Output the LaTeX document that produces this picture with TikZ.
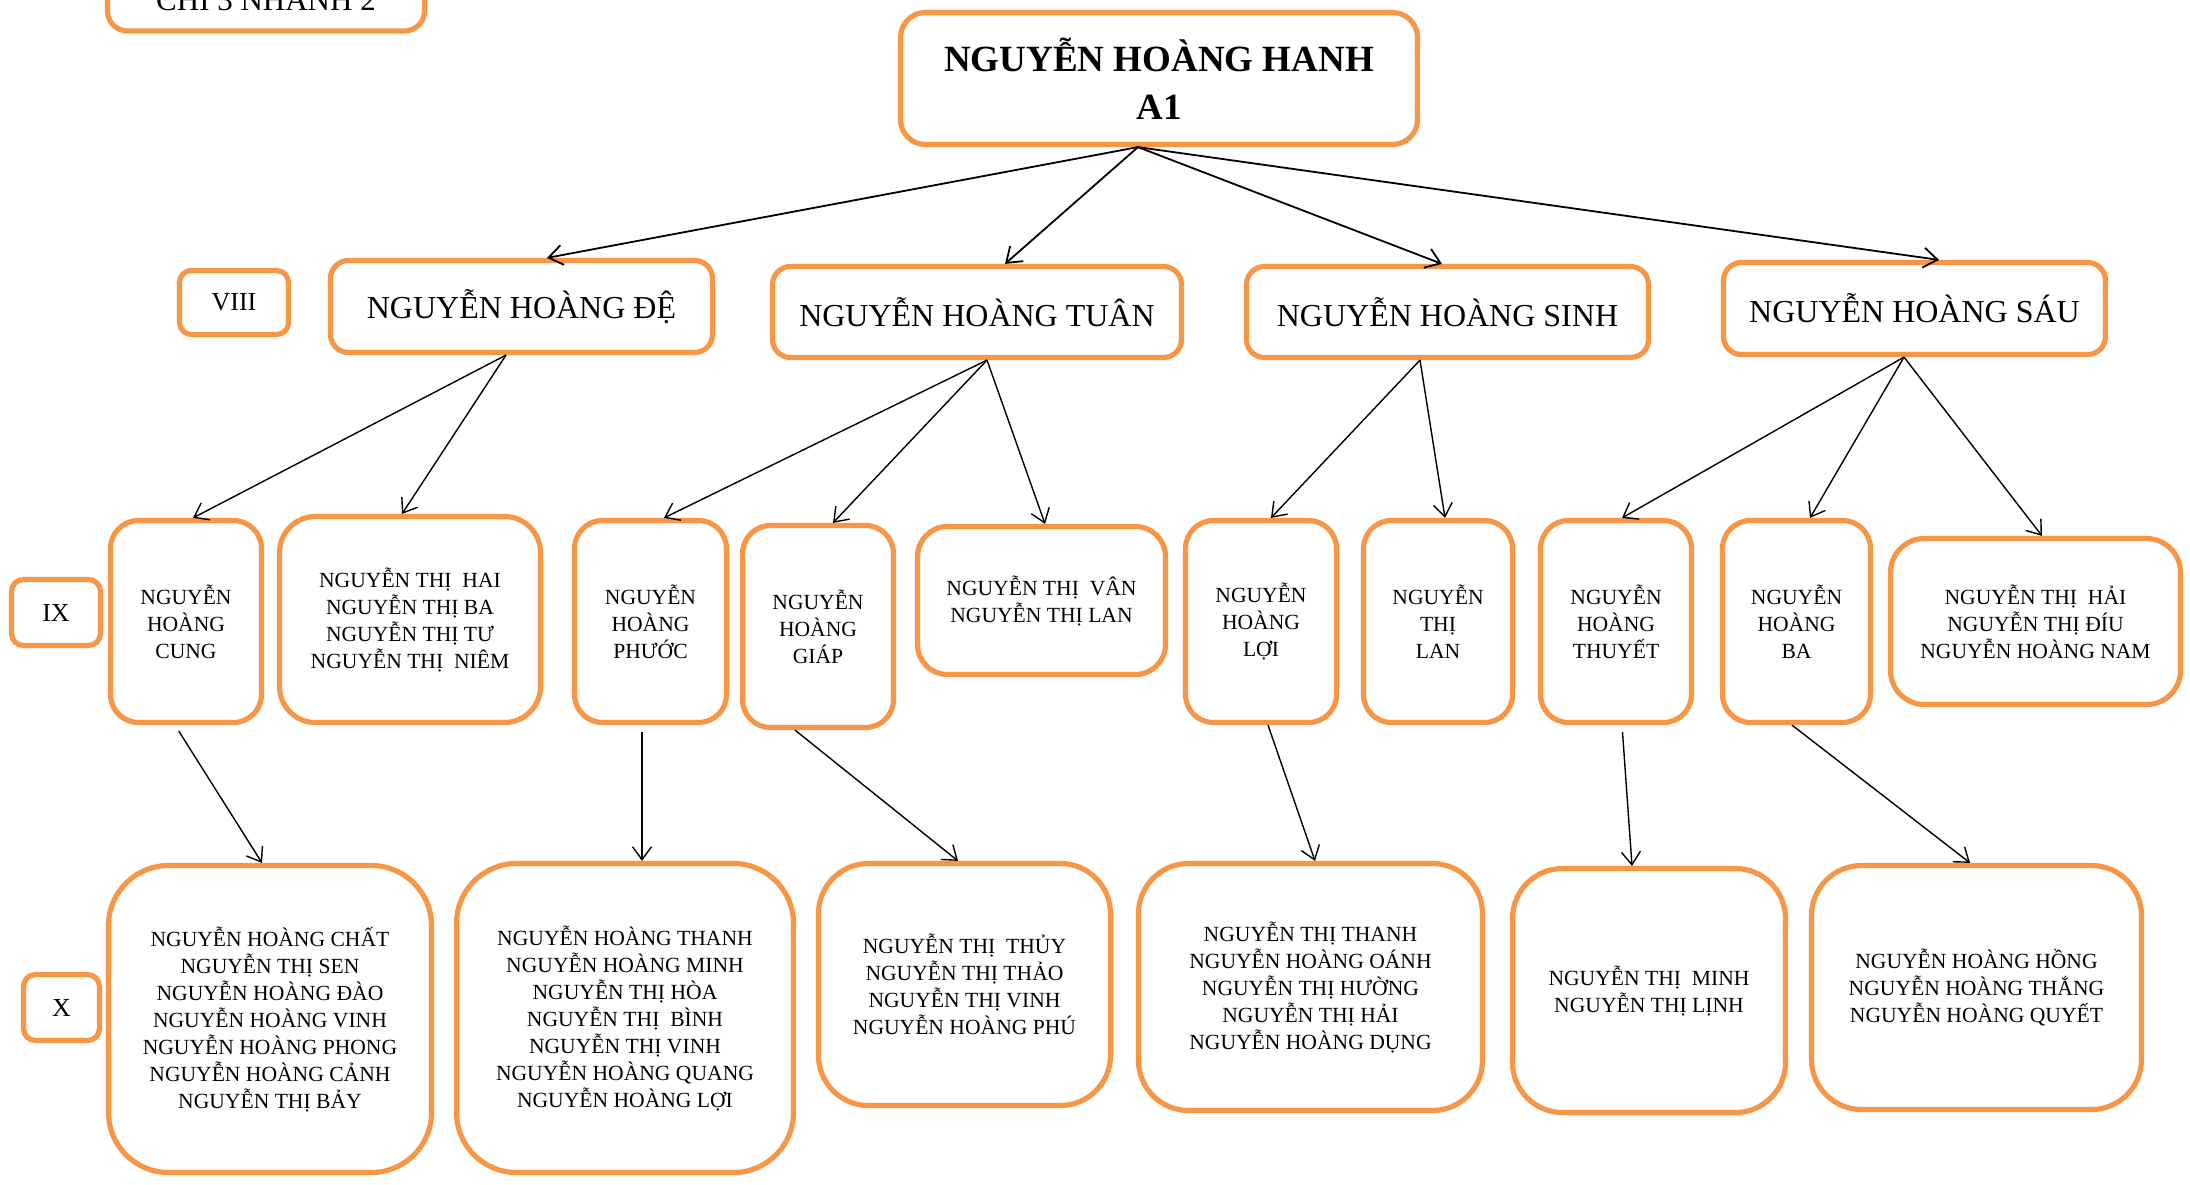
\documentclass[tikz,border=0pt]{standalone}
\usepackage{fontspec}
\setmainfont{Liberation Serif}
\usetikzlibrary{arrows.meta}
\definecolor{boxorange}{RGB}{247,150,70}
\newcommand\froot{\fontsize{18.5}{24}\selectfont\bfseries}
\newcommand\fgen{\fontsize{16}{19}\selectfont}
\newcommand\flabel{\fontsize{13}{15}\selectfont}
\newcommand\fchi{\fontsize{15.5}{18}\selectfont}
\newcommand\fnames{\fontsize{10.8}{13.5}\selectfont}
\begin{document}
\begin{tikzpicture}[x=0.5pt,y=-0.5pt,
  box/.style={draw=boxorange, line width=2.6pt, fill=white, rounded corners=#1,
              align=center, inner sep=0pt},
  box/.default=9pt,
  arr/.style={draw=black, line width=0.9pt, -{Straight Barb[length=7pt,width=10pt]}},
  arrs/.style={draw=black, line width=0.7pt, -{Straight Barb[length=6.5pt,width=9.5pt]}}]
\fill[white] (0,0) rectangle (2190,1184);
\useasboundingbox (0,0) rectangle (2190,1184);

% top
\node[box=10pt, minimum width=158.5pt, minimum height=34pt, font=\fchi] (chi) at (266,-3) {CHI 3 NHÁNH 2};
\node[box=12.5pt, minimum width=258.5pt, minimum height=66pt, font=\froot] (root) at (1159,78.5) {NGUYỄN HOÀNG HANH\\A1};

% generation VIII
\node[box=6pt, minimum width=54.5pt, minimum height=32pt, font=\flabel] (l8) at (234,302.5) {VIII};
\node[box, minimum width=191pt, minimum height=46pt, font=\fgen] (de) at (521.5,306.5) {NGUYỄN HOÀNG ĐỆ};
\node[box, minimum width=204.5pt, minimum height=45.5pt, font=\fgen] (tuan) at (977,312) {NGUYỄN HOÀNG TUÂN};
\node[box, minimum width=201pt, minimum height=45.5pt, font=\fgen] (sinh) at (1447.5,312) {NGUYỄN HOÀNG SINH};
\node[box, minimum width=191pt, minimum height=46pt, font=\fgen] (sau) at (1914.5,308.5) {NGUYỄN HOÀNG SÁU};

% generation IX
\node[box=6pt, minimum width=44.5pt, minimum height=33pt, font=\flabel] (l9) at (56,612.5) {IX};
\node[box=14pt, minimum width=75.5pt, minimum height=101pt, font=\fnames] (cung) at (186,621.5) {NGUYỄN\\HOÀNG\\CUNG};
\node[box=18pt, minimum width=130.5pt, minimum height=103pt, font=\fnames] (hai) at (410,619.5) {NGUYỄN THỊ\ \ HAI\\NGUYỄN THỊ BA\\NGUYỄN THỊ TƯ\\NGUYỄN THỊ\ \ NIÊM};
\node[box=14pt, minimum width=76pt, minimum height=101pt, font=\fnames] (phuoc) at (650.5,621.5) {NGUYỄN\\HOÀNG\\PHƯỚC};
\node[box=14pt, minimum width=75.5pt, minimum height=101pt, font=\fnames] (giap) at (818,626.5) {NGUYỄN\\HOÀNG\\GIÁP};
\node[box=15pt, minimum width=124pt, minimum height=74pt, font=\fnames] (van) at (1041.5,600.5) {NGUYỄN THỊ\ \ VÂN\\NGUYỄN THỊ LAN};
\node[box=14pt, minimum width=75.5pt, minimum height=101pt, font=\fnames] (loi) at (1261,621.5) {NGUYỄN\\HOÀNG\\LỢI};
\node[box=14pt, minimum width=74.5pt, minimum height=101pt, font=\fnames] (lan) at (1438,621.5) {NGUYỄN\\THỊ\\LAN};
\node[box=14pt, minimum width=75.5pt, minimum height=101pt, font=\fnames] (thuyet) at (1616,621.5) {NGUYỄN\\HOÀNG\\THUYẾT};
\node[box=14pt, minimum width=74pt, minimum height=101pt, font=\fnames] (ba) at (1796.5,621.5) {NGUYỄN\\HOÀNG\\BA};
\node[box=17pt, minimum width=145pt, minimum height=83pt, font=\fnames] (haib) at (2035.5,621.5) {NGUYỄN THỊ\ \ HẢI\\NGUYỄN THỊ ĐÍU\\NGUYỄN HOÀNG NAM};

% generation X
\node[box=6pt, minimum width=38pt, minimum height=33pt, font=\flabel] (l10) at (61.5,1007.5) {X};
\node[box=30pt, minimum width=161.5pt, minimum height=153.5pt, font=\fnames] (chat) at (270,1019) {NGUYỄN HOÀNG CHẤT\\NGUYỄN THỊ SEN\\NGUYỄN HOÀNG ĐÀO\\NGUYỄN HOÀNG VINH\\NGUYỄN HOÀNG PHONG\\NGUYỄN HOÀNG CẢNH\\NGUYỄN THỊ BẢY};
\node[box=30pt, minimum width=168.5pt, minimum height=154.5pt, font=\fnames] (thanh) at (625,1018) {NGUYỄN HOÀNG THANH\\NGUYỄN HOÀNG MINH\\NGUYỄN THỊ HÒA\\NGUYỄN THỊ\ \ BÌNH\\NGUYỄN THỊ VINH\\NGUYỄN HOÀNG QUANG\\NGUYỄN HOÀNG LỢI};
\node[box=25pt, minimum width=146pt, minimum height=121pt, font=\fnames] (thuy) at (964.5,984.5) {NGUYỄN THỊ\ \ THỦY\\NGUYỄN THỊ THẢO\\NGUYỄN THỊ VINH\\NGUYỄN HOÀNG PHÚ};
\node[box=25pt, minimum width=172pt, minimum height=123.5pt, font=\fnames] (tthanh) at (1310.5,987) {NGUYỄN THỊ THANH\\NGUYỄN HOÀNG OÁNH\\NGUYỄN THỊ HƯỜNG\\NGUYỄN THỊ HẢI\\NGUYỄN HOÀNG DỤNG};
\node[box=25pt, minimum width=136.5pt, minimum height=122pt, font=\fnames] (minh) at (1649,990.5) {NGUYỄN THỊ\ \ MINH\\NGUYỄN THỊ LỊNH};
\node[box=25pt, minimum width=165pt, minimum height=122pt, font=\fnames] (hong) at (1976.5,987.5) {NGUYỄN HOÀNG HỒNG\\NGUYỄN HOÀNG THẮNG\\NGUYỄN HOÀNG QUYẾT};

% arrows level 1
\draw[arr] (root.south -| 1138,0) -- (de.north -| 547,0);
\draw[arr] (root.south -| 1138,0) -- (tuan.north -| 1005,0);
\draw[arr] (root.south -| 1138,0) -- (sinh.north -| 1442,0);
\draw[arr] (root.south -| 1138,0) -- (sau.north -| 1939,0);

% arrows level 2
\draw[arrs] (de.south -| 506,0) -- (cung.north -| 193,0);
\draw[arrs] (de.south -| 506,0) -- (hai.north -| 402,0);
\draw[arrs] (tuan.south -| 987,0) -- (phuoc.north -| 664,0);
\draw[arrs] (tuan.south -| 987,0) -- (giap.north -| 833,0);
\draw[arrs] (tuan.south -| 987,0) -- (van.north -| 1045,0);
\draw[arrs] (sinh.south -| 1420,0) -- (loi.north -| 1271,0);
\draw[arrs] (sinh.south -| 1420,0) -- (lan.north -| 1445,0);
\draw[arrs] (sau.south -| 1904,0) -- (thuyet.north -| 1622,0);
\draw[arrs] (sau.south -| 1904,0) -- (ba.north -| 1810,0);
\draw[arrs] (sau.south -| 1904,0) -- (haib.north -| 2042,0);

% arrows level 3
\draw[arrs, shorten <=3.5pt] (cung.south -| 175,0) -- (chat.north -| 262,0);
\draw[arrs, shorten <=3.5pt] (phuoc.south -| 642,0) -- (thanh.north -| 642,0);
\draw[arrs] (giap.south -| 795,0) -- (thuy.north -| 958,0);
\draw[arrs] (loi.south -| 1268,0) -- (tthanh.north -| 1315,0);
\draw[arrs, shorten <=3.5pt] (thuyet.south -| 1622,0) -- (minh.north -| 1632,0);
\draw[arrs] (ba.south -| 1792,0) -- (hong.north -| 1970,0);
\end{tikzpicture}
\end{document}
